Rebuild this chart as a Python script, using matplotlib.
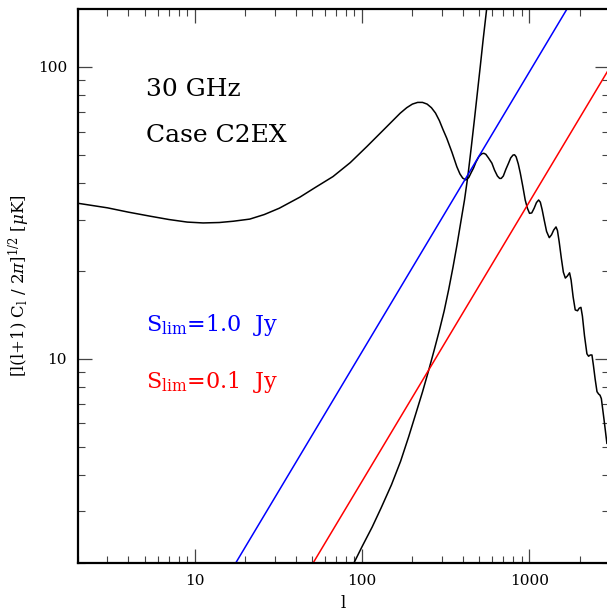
import matplotlib
matplotlib.use("Agg")
import matplotlib.pyplot as plt
from matplotlib.ticker import LogLocator, NullFormatter, FixedLocator, FixedFormatter

plt.rcParams["font.family"] = ["DejaVu Serif"]
plt.rcParams["mathtext.fontset"] = "dejavuserif"

# ── data ──
# CMB spectrum (30 GHz, case C2EX)
cmb_l = [2, 3, 4, 5.4, 7, 9, 11.2, 14, 17, 21.3, 26, 32, 42.5, 52, 67, 85, 107, 135,
         169, 185, 200, 215, 230, 245, 260, 275, 290, 305, 321, 345, 369, 385, 400,
         418, 435, 450, 464, 480, 500, 520, 535, 550, 570, 598, 620, 645, 665, 680,
         700, 725, 752, 775, 800, 817, 835, 860, 884, 915, 946, 975, 1004, 1035,
         1070, 1105, 1138, 1165, 1195, 1230, 1270, 1318, 1360, 1400, 1446, 1475,
         1510, 1556, 1600, 1644, 1690, 1743, 1780, 1830, 1884, 1945, 1990, 2038,
         2080, 2140, 2213, 2264, 2320, 2372, 2420, 2480, 2543, 2600, 2650, 2700,
         2800, 2914]
cmb_t = [34.1, 32.9, 31.8, 30.8, 30.0, 29.4, 29.2, 29.3, 29.6, 30.1, 31.2, 32.8, 35.8, 38.5, 42.1, 47.0, 53.4, 61.0,
         69.4, 72.5, 74.6, 75.6, 75.6, 74.6, 72.5, 69.5, 65.5, 61.0, 57.0, 51.0, 45.5, 43.0, 41.6,
         41.0, 41.8, 43.5, 45.0, 47.2, 49.3, 50.4, 50.6, 50.2, 48.8, 46.8, 44.3, 42.3, 41.5, 41.5,
         42.3, 44.6, 46.8, 48.8, 49.9, 50.0, 49.2, 46.5, 43.3, 39.0, 35.0, 32.8, 31.5, 31.6,
         32.8, 34.3, 35.0, 34.4, 32.4, 29.8, 27.3, 26.0, 26.6, 27.6, 28.3, 27.5,
         25.2, 22.1, 19.8, 18.9, 19.2, 19.7, 18.6, 16.3, 14.7, 14.6, 14.9, 15.0,
         14.0, 12.0, 10.4, 10.2, 10.3, 10.3, 9.5, 8.5, 7.71, 7.57, 7.5, 7.3,
         6.2, 5.13]

# noise curve
noise_l = [89.6, 100, 115, 130, 150, 170, 190, 210, 230, 250, 270, 290, 310, 330, 350,
           370, 390, 410, 430, 450, 470, 490, 510, 530, 557]
noise_t = [2.0, 2.27, 2.65, 3.08, 3.7, 4.45, 5.4, 6.5, 7.7, 9.1, 10.7, 12.5, 14.6, 17.3, 20.6,
           24.6, 29.5, 35.0, 42.5, 53.0, 66.0, 82.0, 101.0, 124.0, 159.0]

# point-source lines
s10_l = [17.6, 1682]
s10_t = [2.0, 158]
s01_l = [51.1, 3000]
s01_t = [2.0, 98.5]

fig = plt.figure(figsize=(6.07, 6.12), dpi=100, facecolor="white")
ax = fig.add_axes([0.1285, 0.0806, 0.8748, 0.9047])

ax.plot(cmb_l, cmb_t, color="black", lw=1.1)
ax.plot(noise_l, noise_t, color="black", lw=1.1)
ax.plot(s10_l, s10_t, color="#0000ff", lw=1.1)
ax.plot(s01_l, s01_t, color="#ff0000", lw=1.1)

ax.set_xscale("log")
ax.set_yscale("log")
ax.set_xlim(2, 3000)
ax.set_ylim(2, 158)

# ── ticks ──
ax.xaxis.set_major_locator(FixedLocator([10, 100, 1000]))
ax.xaxis.set_major_formatter(FixedFormatter(["10", "100", "1000"]))
ax.yaxis.set_major_locator(FixedLocator([10, 100]))
ax.yaxis.set_major_formatter(FixedFormatter(["10", "100"]))
ax.xaxis.set_minor_locator(LogLocator(base=10, subs=range(2, 10)))
ax.yaxis.set_minor_locator(LogLocator(base=10, subs=range(2, 10)))
ax.xaxis.set_minor_formatter(NullFormatter())
ax.yaxis.set_minor_formatter(NullFormatter())
ax.tick_params(which="both", direction="in", top=True, right=True, color="#444444")
ax.tick_params(which="major", length=10, width=0.9, labelsize=11, pad=8)
ax.tick_params(which="minor", length=5, width=0.8)
for s in ax.spines.values():
    s.set_linewidth(1.6)

ax.set_xlabel("l", fontsize=12, labelpad=5)
ax.set_ylabel(r"[l(l+1) C$_{\rm l}$ / 2$\pi$]$^{1/2}$ [$\mu$K]", fontsize=12, labelpad=4)

# ── annotations ──
ax.text(0.128, 0.843, "30 GHz", transform=ax.transAxes, fontsize=18)
ax.text(0.128, 0.760, "Case C2EX", transform=ax.transAxes, fontsize=18)
ax.text(0.128, 0.419, r"S$_{\rm lim}$=1.0  Jy", transform=ax.transAxes, fontsize=16, color="#0000ff")
ax.text(0.128, 0.315, r"S$_{\rm lim}$=0.1  Jy", transform=ax.transAxes, fontsize=16, color="#ff0000")

fig.savefig("out.png", dpi=100, facecolor="white")
